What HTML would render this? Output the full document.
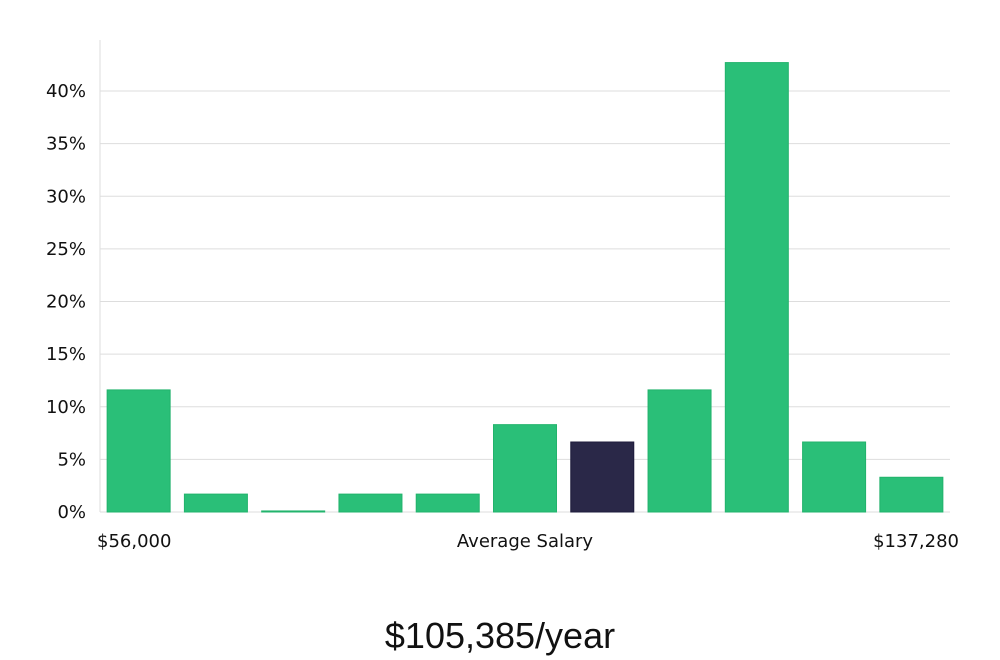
<!DOCTYPE html>
<html><head><meta charset="utf-8"><style>
html,body{margin:0;padding:0;background:#fff;width:1000px;height:660px;overflow:hidden}
svg text{font-family:"DejaVu Sans","Liberation Sans",sans-serif;fill:#111}
</style></head><body>
<svg id="chart" width="1000" height="660" xmlns="http://www.w3.org/2000/svg">
<g id="grid"></g><g id="bars"></g><g id="labels"></g>
<text x="97" y="547" font-size="18">$56,000</text>
<text x="525" y="547" font-size="18" text-anchor="middle">Average Salary</text>
<text x="959" y="547" font-size="18" text-anchor="end">$137,280</text>
<text x="500" y="648" font-size="36" text-anchor="middle" style="font-family:'Liberation Sans',sans-serif;font-weight:300">$105,385/year</text>
</svg>
<script>
const categories = ["b1","b2","b3","b4","b5","b6","b7","b8","b9","b10","b11"];
const values = [11.6,1.7,0.1,1.7,1.7,8.3,6.65,11.6,42.7,6.65,3.3];
const highlightIndex = 6;
const yTicks = [0,5,10,15,20,25,30,35,40];
const yTickLabels = ["0%","5%","10%","15%","20%","25%","30%","35%","40%"];
const NS="http://www.w3.org/2000/svg";
const x0=100,x1=950,y0=512,pxPer=10.525;
function y(v){return y0-v*pxPer;}
const pitch=(x1-x0)/categories.length, bw=63;
function x(i){return x0+i*pitch+(pitch-bw)/2;}
const grid=document.getElementById('grid'),bars=document.getElementById('bars'),labels=document.getElementById('labels');
const ax=document.createElementNS(NS,'line');


ax.setAttribute('x1',x0);ax.setAttribute('x2',x0);ax.setAttribute('y1',40);ax.setAttribute('y2',y0);
ax.setAttribute('stroke','#ddd');grid.appendChild(ax);
yTicks.forEach((t,i)=>{
 const l=document.createElementNS(NS,'line');
 
 
 l.setAttribute('x1',x0);l.setAttribute('x2',x1);l.setAttribute('y1',y(t));l.setAttribute('y2',y(t));
 l.setAttribute('stroke','#ddd');grid.appendChild(l);
 const tx=document.createElementNS(NS,'text');
 
 
 tx.setAttribute('x',86);tx.setAttribute('y',y(t)+6);tx.setAttribute('font-size','18');tx.setAttribute('text-anchor','end');
 tx.textContent=yTickLabels[i];labels.appendChild(tx);
});
values.forEach((v,i)=>{
 const r=document.createElementNS(NS,'rect');
 
 
 r.setAttribute('x',x(i));r.setAttribute('width',bw);
 r.setAttribute('y',y(v));r.setAttribute('height',Math.max(1,y0-y(v)));
 r.setAttribute('fill',i===highlightIndex?'#2a2848':'#2abf78');
 r.setAttribute('stroke',i===highlightIndex?'#1e1c3c':'#22b36c');
 bars.appendChild(r);
});
</script>
</body></html>
